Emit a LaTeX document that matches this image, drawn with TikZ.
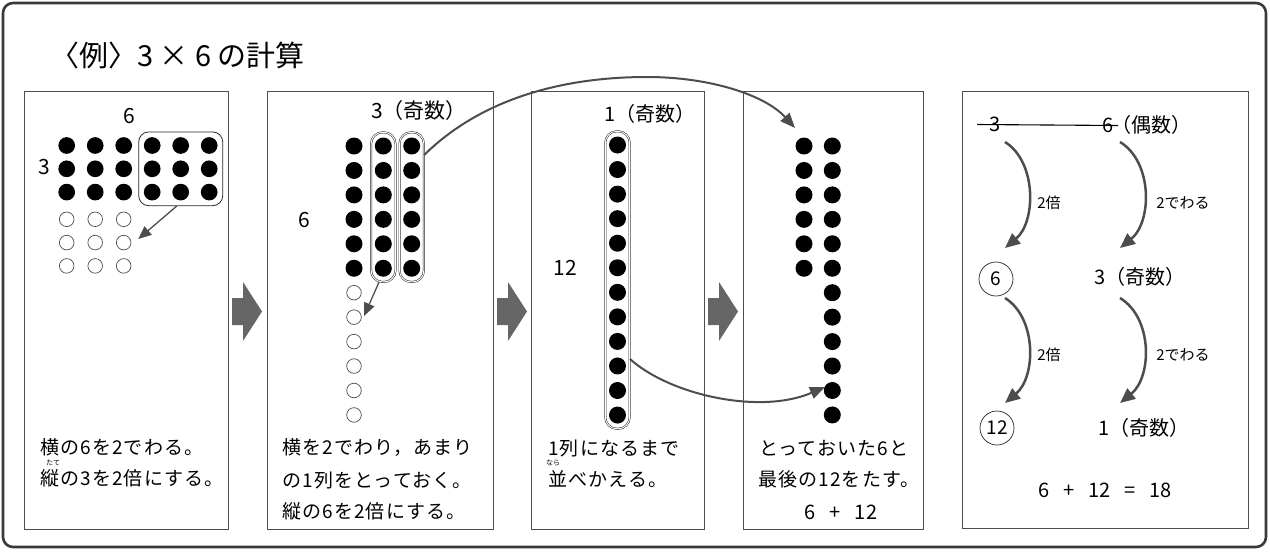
\documentclass[tikz,border=0pt]{standalone}
\usepackage{fontspec}
\setmainfont{Noto Sans CJK JP}
\newfontfamily\jpls{Noto Sans CJK JP}[LetterSpace=6]
\usetikzlibrary{arrows.meta,fit}
\definecolor{lnc}{HTML}{4D4D4D}
\definecolor{blk}{HTML}{666666}
\definecolor{frm}{HTML}{3A3A3A}
\begin{document}
\begin{tikzpicture}[x=1pt,y=-1pt,
  panel/.style={draw=lnc, line width=0.9pt},
  fdot/.style={circle, fill=black, minimum size=17pt, inner sep=0pt},
  odot/.style={circle, draw=lnc, line width=0.7pt, minimum size=14.6pt, inner sep=0pt},
  body/.style={font=\jpls\fontsize{19}{19}\selectfont, inner sep=0pt, anchor=west},
  lbl/.style={font=\fontsize{21}{21}\selectfont, inner sep=0pt},
  mid/.style={font=\fontsize{20}{20}\selectfont, inner sep=0pt},
  ruby/.style={font=\fontsize{7}{7}\selectfont, inner sep=0pt},
  small/.style={font=\fontsize{15}{15}\selectfont, inner sep=0pt},
  capsule/.style={draw=black!85, line width=0.5pt, double=white, double distance=1pt, rounded corners=11.5pt, inner xsep=3.5pt, inner ysep=5pt},
  arrS/.style={draw=lnc, line width=1.3pt, -{Triangle[length=13pt,width=11pt]}},
  arrL/.style={draw=lnc, line width=2pt, -{Triangle[length=15pt,width=12pt]}},
  arrB/.style={draw=lnc, line width=2.5pt, -{Triangle[length=15pt,width=13pt]}},
  ring/.style={circle, draw=black!85, line width=0.7pt, minimum size=34pt, inner sep=0pt, font=\fontsize{19}{19}\selectfont},
]
\useasboundingbox (0,0) rectangle (1270,552);
% outer frame
\draw[draw=frm, line width=2.6pt, rounded corners=10pt] (3,3) rectangle (1266,547);
% title
\node[anchor=west, inner sep=0pt, font=\fontsize{29}{29}\selectfont] (title) at (50,55) {〈例〉3 × 6 の計算};
% panels
\draw[panel] (24,91) rectangle (228,529);
\draw[panel] (267,91) rectangle (493,529);
\draw[panel] (531,91) rectangle (704,529);
\draw[panel] (743,91) rectangle (923,529);
\draw[panel] (962,91) rectangle (1248,528);
% block arrows
\foreach \x in {232,497,708}{
  \fill[blk] (\x,298) -- ({\x+11},298) -- ({\x+11},282) -- ({\x+30},311.5) -- ({\x+11},341) -- ({\x+11},325) -- (\x,325) -- cycle;
}
% ---------- panel 1
\foreach \r in {1,2,3}{
  \foreach \c in {1,...,6}{
    \node[fdot, minimum size=16.7pt] (p1f-\r-\c) at ({66.7+28.5*(\c-1)},{145.5+23.3*(\r-1)}) {};
  }
  \foreach \c in {1,2,3}{
    \node[odot] (p1o-\r-\c) at ({66.7+28.5*(\c-1)},{219.3+23.3*(\r-1)}) {};
  }
}
\node[draw=black!85, line width=0.8pt, rounded corners=10pt, inner sep=5pt, fit=(p1f-1-4)(p1f-3-6)] (p1box) {};
\node[lbl] (p1six) at (129.5,116) {6};
\node[lbl] (p1three) at (44.5,167.5) {3};
\coordinate (p1tip) at (138.3,239);
\draw[arrS] (p1box.south -| 176.7,0) -- (p1tip);
\node[body] (p1l1) at (40,447) {横の6を2でわる。};
\node[ruby] (p1r) at (53,463) {たて};
\node[body] (p1l2) at (40,478) {縦の3を2倍にする。};
% ---------- panel 2
\foreach \r in {1,...,6}{
  \foreach \c/\xx in {1/354,2/383.3,3/411.7}{
    \node[fdot] (p2f-\r-\c) at (\xx,{146+24.45*(\r-1)}) {};
  }
}
\foreach \r in {7,...,12}{
  \node[odot] (p2o-\r) at (354,{146+24.45*(\r-1)}) {};
}
\node[capsule, fit=(p2f-1-2)(p2f-6-2)] (p2cap2) {};
\node[capsule, fit=(p2f-1-3)(p2f-6-3)] (p2cap3) {};
\node[mid, font=\fontsize{21}{21}\selectfont] (p2odd) at (419,111) {3（奇数）};
\node[lbl] (p2six) at (304,220) {6};
\coordinate (p2tip) at (364,316);
\draw[arrS] (p2cap2.south -| 379,0) -- (p2tip);
\node[body] (p2l1) at (282,448) {横を2でわり，あまり};
\node[body] (p2l2) at (282,480) {の1列をとっておく。};
\node[body] (p2l3) at (282,511) {縦の6を2倍にする。};
% ---------- panel 3
\foreach \r in {1,...,12}{
  \node[fdot] (p3f-\r) at (617.5,{145+24.55*(\r-1)}) {};
}
\node[capsule, fit=(p3f-1)(p3f-12)] (p3cap) {};
\node[mid] (p3odd) at (650,114) {1（奇数）};
\node[lbl] (p3twelve) at (565,267.5) {12};
\node[body] (p3l1) at (548,448) {1列になるまで};
\node[ruby] (p3r) at (553,463) {なら};
\node[body] (p3l2) at (548,479) {並べかえる。};
% ---------- panel 4
\foreach \r in {1,...,6}{
  \node[fdot] (p4a-\r) at (804,{146+24.45*(\r-1)}) {};
}
\foreach \r in {1,...,12}{
  \node[fdot] (p4b-\r) at (832.3,{146+24.45*(\r-1)}) {};
}
\node[body] (p4l1) at (759,448) {とっておいた6と};
\node[body] (p4l2) at (758,479) {最後の12をたす。};
\node[mid] (p4sum) at (841,512) {6\hspace{0.7em}+\hspace{0.7em}12};
% long curved arrows
\coordinate (c1tip) at (795,128);
\draw[arrL] (p2cap3.east |- 0,155) .. controls (480,100) and (560,77) .. (647,77) .. controls (710,77) and (765,95) .. (c1tip);
\coordinate (c2tip) at (825,387);
\draw[arrL] (p3cap.east |- 0,359) .. controls (670,395) and (760,415) .. (c2tip);
% ---------- panel 5
\node[mid] (p5three) at (995,124) {3};
\node[mid] (p5six) at (1108,125) {6};
\node[mid, anchor=west] (p5even) at (1111,125) {（偶数）};
\draw[line width=1.1pt] ([shift={(-18,0.5)}]p5three.center) -- ([shift={(10,0.5)}]p5six.center);
\node[ring] (p5c6) at (996,279) {6};
\node[ring] (p5c12) at (997,428) {12};
\node[mid] (p5odd1) at (1140,277) {3（奇数）};
\node[mid] (p5odd2) at (1144,428) {1（奇数）};
\coordinate (q1s) at (1005,142); \coordinate (q1e) at (1005,248);
\coordinate (q2s) at (1120,142); \coordinate (q2e) at (1120,248);
\coordinate (q3s) at (1005,298); \coordinate (q3e) at (1005,403);
\coordinate (q4s) at (1120,298); \coordinate (q4e) at (1120,403);
\draw[arrB] (q1s) .. controls (1037,162) and (1036,222) .. (q1e);
\draw[arrB] (q2s) .. controls (1153,162) and (1152,222) .. (q2e);
\draw[arrB] (q3s) .. controls (1037,318) and (1036,377) .. (q3e);
\draw[arrB] (q4s) .. controls (1153,318) and (1152,377) .. (q4e);
\node[small] (p5m1) at (1049,203) {2倍};
\node[small] (p5d1) at (1183,203) {2でわる};
\node[small] (p5m2) at (1049,355) {2倍};
\node[small] (p5d2) at (1183,355) {2でわる};
\node[mid] (p5sum) at (1105,490) {6\hspace{0.7em}+\hspace{0.7em}12\hspace{0.7em}=\hspace{0.7em}18};
\end{tikzpicture}
\end{document}
